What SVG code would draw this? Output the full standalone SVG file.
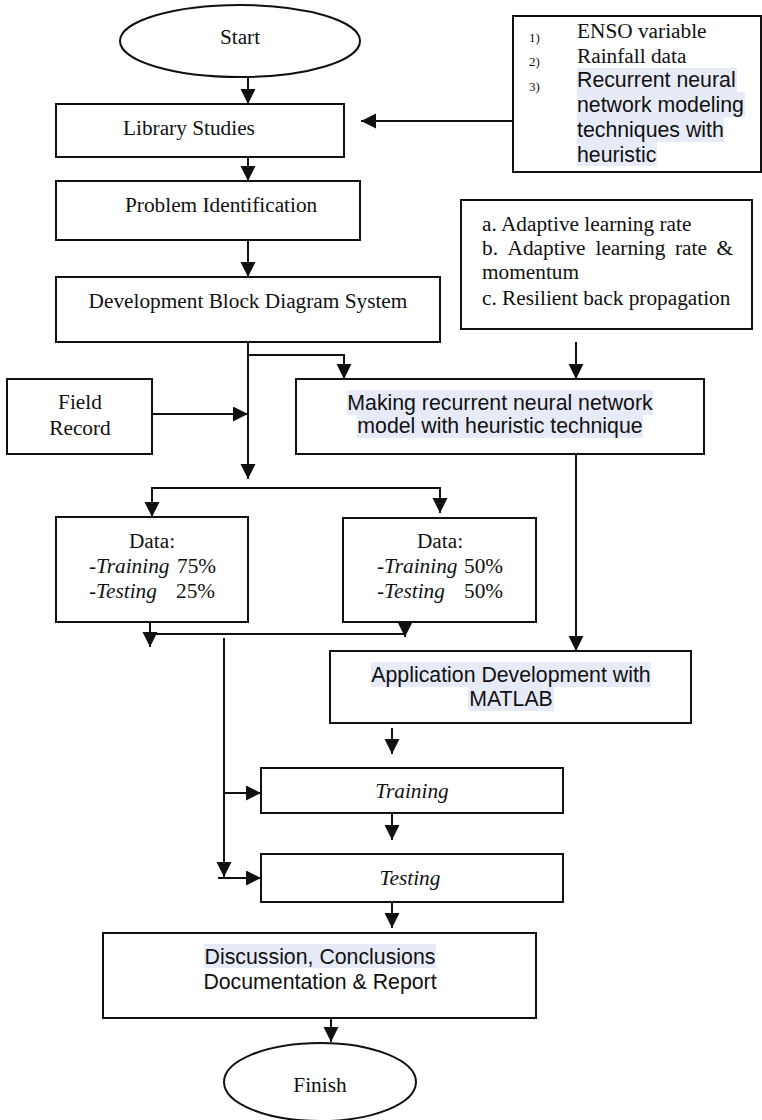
<svg xmlns="http://www.w3.org/2000/svg" width="762" height="1120" viewBox="0 0 762 1120">
<style>
.box{fill:#fff;stroke:#111;stroke-width:2}
.ser{font-family:"Liberation Serif","Times New Roman",serif;font-size:21.3px;fill:#111}
.san{font-family:"Liberation Sans",Arial,sans-serif;font-size:21.3px;fill:#111}
.it{font-style:italic}
.num{font-family:"Liberation Serif","Times New Roman",serif;font-size:13px;fill:#111}
.hl{fill:#e7ebf7}
.ln{fill:none;stroke:#111;stroke-width:2}
.ar{fill:none;stroke:#111;stroke-width:2;marker-end:url(#ah)}
</style>
<defs>
<marker id="ah" markerUnits="userSpaceOnUse" markerWidth="16" markerHeight="16" refX="15" refY="7.5" orient="auto">
<path d="M0,0 L15,7.5 L0,15 z" fill="#111"/>
</marker>
</defs>
<rect width="762" height="1120" fill="#fff"/>

<g id="connectors">
<line class="ar" x1="248" y1="77" x2="248" y2="104"/>
<line class="ar" x1="513" y1="121" x2="361" y2="121"/>
<line class="ar" x1="248" y1="157" x2="248" y2="181"/>
<line class="ar" x1="248" y1="240" x2="248" y2="277"/>
<line class="ar" x1="248" y1="342" x2="248" y2="479"/>
<polyline class="ar" points="248,355 344,355 344,379"/>
<line class="ar" x1="152" y1="414" x2="248" y2="414"/>
<line class="ar" x1="576" y1="342" x2="576" y2="379"/>
<line class="ln" x1="151" y1="488" x2="441" y2="488"/>
<line class="ar" x1="152" y1="488" x2="152" y2="517"/>
<line class="ar" x1="440" y1="488" x2="440" y2="513"/>
<line class="ar" x1="150" y1="622" x2="150" y2="647"/>
<line class="ar" x1="405" y1="611" x2="405" y2="637"/>
<line class="ln" x1="150" y1="634" x2="405" y2="634"/>
<line class="ar" x1="224" y1="638" x2="224" y2="877"/>
<line class="ar" x1="224" y1="793" x2="261" y2="793"/>
<line class="ar" x1="218" y1="878" x2="261" y2="878"/>
<line class="ar" x1="576" y1="454" x2="576" y2="651"/>
<line class="ar" x1="392" y1="728" x2="392" y2="754"/>
<line class="ar" x1="392" y1="813" x2="392" y2="840"/>
<line class="ar" x1="392" y1="902" x2="392" y2="928"/>
<line class="ar" x1="331" y1="1016" x2="331" y2="1042"/>
</g>

<g id="start">
<ellipse class="box" cx="240" cy="41" rx="120" ry="36"/>
<text class="ser" x="240" y="44" text-anchor="middle">Start</text>
</g>

<g id="library">
<rect class="box" x="56" y="104" width="288" height="53"/>
<text class="ser" x="123" y="135">Library Studies</text>
</g>

<g id="enso">
<rect class="box" x="513" y="16" width="248" height="156"/>
<rect class="hl" x="577" y="68" width="160" height="24"/>
<rect class="hl" x="577" y="92" width="168" height="25"/>
<rect class="hl" x="577" y="117" width="147" height="25"/>
<rect class="hl" x="577" y="142" width="80" height="24"/>
<text class="num" x="529" y="42">1)</text>
<text class="num" x="529" y="66">2)</text>
<text class="num" x="529" y="91">3)</text>
<text class="ser" x="577" y="38">ENSO variable</text>
<text class="ser" x="577" y="63">Rainfall data</text>
<text class="san" x="577" y="87">Recurrent neural</text>
<text class="san" x="577" y="112">network modeling</text>
<text class="san" x="577" y="137">techniques with</text>
<text class="san" x="577" y="162">heuristic</text>
</g>

<g id="problem">
<rect class="box" x="56" y="181" width="304" height="59"/>
<text class="ser" x="125" y="212">Problem Identification</text>
</g>

<g id="adaptive">
<rect class="box" x="461" y="200" width="291" height="129"/>
<text class="ser" x="482" y="231">a. Adaptive learning rate</text>
<text class="ser" y="255"><tspan x="482">b.</tspan><tspan x="507.5">Adaptive</tspan><tspan x="595.5">learning</tspan><tspan x="675">rate</tspan><tspan x="716.5">&amp;</tspan></text>
<text class="ser" x="482" y="279">momentum</text>
<text class="ser" x="482" y="305">c. Resilient back propagation</text>
</g>

<g id="development">
<rect class="box" x="56" y="277" width="384" height="65"/>
<text class="ser" x="248" y="308" text-anchor="middle">Development Block Diagram System</text>
</g>

<g id="field">
<rect class="box" x="7" y="379" width="145" height="75"/>
<text class="ser" x="80" y="409" text-anchor="middle">Field</text>
<text class="ser" x="80" y="435" text-anchor="middle">Record</text>
</g>

<g id="making">
<rect class="box" x="296" y="379" width="408" height="75"/>
<rect class="hl" x="347" y="390" width="306" height="25"/>
<rect class="hl" x="357" y="415" width="286" height="23"/>
<text class="san" x="500" y="410" text-anchor="middle">Making recurrent neural network</text>
<text class="san" x="500" y="433" text-anchor="middle">model with heuristic technique</text>
</g>

<g id="data1">
<rect class="box" x="56" y="517" width="192" height="105"/>
<text class="ser" x="152" y="548" text-anchor="middle">Data:</text>
<text class="ser" y="573"><tspan x="89">-</tspan><tspan class="it">Training</tspan><tspan x="177">75%</tspan></text>
<text class="ser" y="598"><tspan x="89">-</tspan><tspan class="it">Testing</tspan><tspan x="176">25%</tspan></text>
</g>

<g id="data2">
<rect class="box" x="343" y="518" width="193" height="104"/>
<text class="ser" x="440" y="548" text-anchor="middle">Data:</text>
<text class="ser" y="573"><tspan x="377">-</tspan><tspan class="it">Training</tspan><tspan x="464">50%</tspan></text>
<text class="ser" y="598"><tspan x="377">-</tspan><tspan class="it">Testing</tspan><tspan x="464">50%</tspan></text>
</g>

<g id="application">
<rect class="box" x="330" y="651" width="361" height="72"/>
<rect class="hl" x="371" y="662" width="280" height="25"/>
<rect class="hl" x="468" y="687" width="86" height="24"/>
<text class="san" x="511" y="682" text-anchor="middle">Application Development with</text>
<text class="san" x="511" y="706" text-anchor="middle">MATLAB</text>
</g>

<g id="training">
<rect class="box" x="261" y="768" width="302" height="45"/>
<text class="ser it" x="412" y="798" text-anchor="middle">Training</text>
</g>

<g id="testing">
<rect class="box" x="261" y="854" width="302" height="48"/>
<text class="ser it" x="410" y="885" text-anchor="middle">Testing</text>
</g>

<g id="discussion">
<rect class="box" x="103" y="933" width="433" height="85"/>
<rect class="hl" x="204" y="944" width="232" height="24"/>
<text class="san" x="320" y="964" text-anchor="middle">Discussion, Conclusions</text>
<text class="san" x="320" y="989" text-anchor="middle">Documentation &amp; Report</text>
</g>

<g id="finish">
<ellipse class="box" cx="320" cy="1082" rx="96" ry="39"/>
<text class="ser" x="320" y="1092" text-anchor="middle">Finish</text>
</g>
</svg>
